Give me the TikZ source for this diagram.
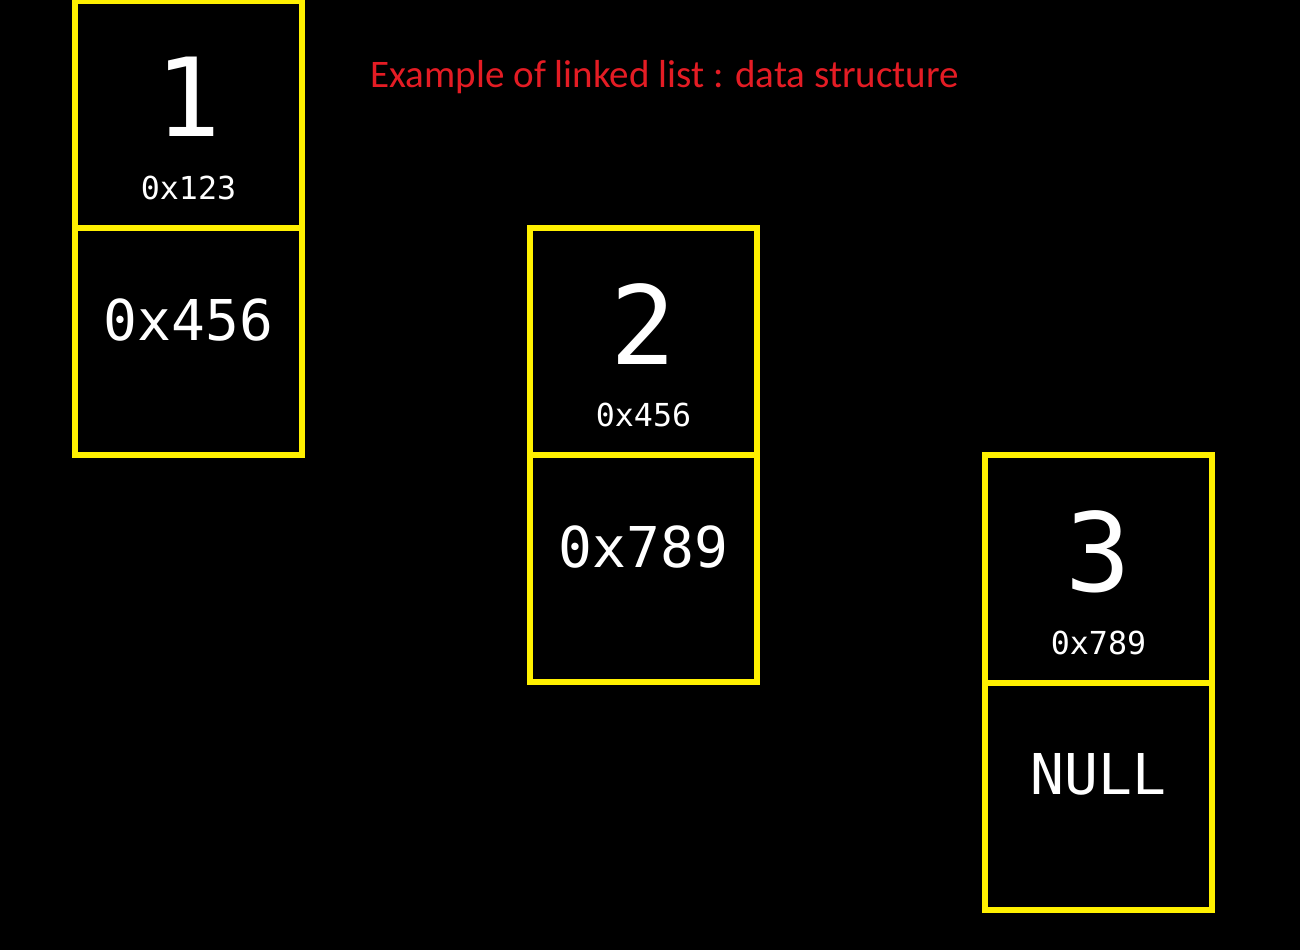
\documentclass[tikz,border=0pt]{standalone}
\usepackage{fontspec}
\setmainfont{Carlito}
\setmonofont{DejaVu Sans Mono}
\usetikzlibrary{positioning}
\definecolor{cellyellow}{RGB}{255,240,0}
\definecolor{titlered}{RGB}{228,28,36}
\tikzset{
  cell/.style={draw=cellyellow, line width=0.06cm, minimum width=2.27cm,
    minimum height=2.27cm, inner sep=0pt, outer sep=0pt},
  value/.style={text=white, inner sep=0pt, font=\ttfamily\fontsize{31}{31}\selectfont},
  addr/.style={text=white, inner sep=0pt, font=\ttfamily\fontsize{9}{9}\selectfont},
  ptr/.style={text=white, inner sep=0pt, font=\ttfamily\fontsize{16}{16}\selectfont},
  title/.style={text=titlered, inner sep=0pt, anchor=base west, font=\fontsize{11.1}{11.1}\selectfont}
}
\begin{document}
\begin{tikzpicture}[x=0.01cm,y=-0.01cm]
\fill[black] (0,0) rectangle (1300,950);
\useasboundingbox (0,0) rectangle (1300,950);
\node[title] (title) at (370,87) {Example of linked list : data structure};
\node[cell] (data1) at (188.5,114.5) {};
\node[cell, below=0pt of data1] (next1) {};
\node[cell] (data2) at (643.5,341.5) {};
\node[cell, below=0pt of data2] (next2) {};
\node[cell] (data3) at (1098.5,569) {};
\node[cell, below=0pt of data3] (next3) {};
\node[value] (val1) at ([yshift=0.175cm]data1.center) {1};
\node[addr] (addr1) at ([yshift=-0.735cm]data1.center) {0x123};
\node[ptr] (ptr1) at ([yshift=0.215cm]next1.center) {0x456};
\node[value] (val2) at ([yshift=0.175cm]data2.center) {2};
\node[addr] (addr2) at ([yshift=-0.735cm]data2.center) {0x456};
\node[ptr] (ptr2) at ([yshift=0.215cm]next2.center) {0x789};
\node[value] (val3) at ([yshift=0.175cm]data3.center) {3};
\node[addr] (addr3) at ([yshift=-0.735cm]data3.center) {0x789};
\node[ptr] (ptr3) at ([yshift=0.215cm]next3.center) {NULL};
\end{tikzpicture}
\end{document}
